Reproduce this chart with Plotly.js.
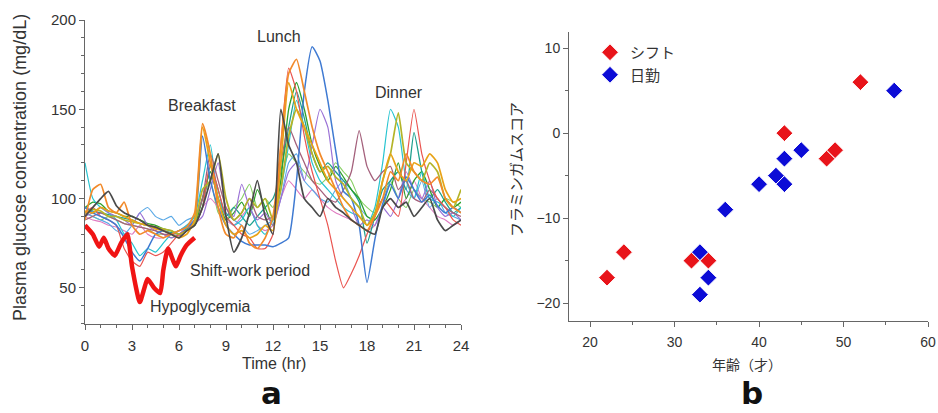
<!DOCTYPE html>
<html>
<head>
<meta charset="utf-8">
<script src="https://cdn.plot.ly/plotly-3.0.1.min.js"></script>
<style>html,body{margin:0;padding:0;background:#fff;}#chart{width:938px;height:413px;}</style>
</head>
<body>
<div id="chart"></div>
<script>
// ---- Panel a: plasma glucose (mg/dL) vs time (hr) ----
const hours = [0,0.5,1,1.5,2,2.5,3,3.5,4,4.5,5,5.5,6,6.5,7,7.5,8,8.5,9,9.5,10,10.5,11,11.5,12,12.5,13,13.5,14,14.5,15,15.5,16,16.5,17,17.5,18,18.5,19,19.5,20,20.5,21,21.5,22,22.5,23,23.5,24];

const gBlue = [95,92,90,88,85,78,70,65,72,80, 82,80,82,84,88,135,110,95,85,80, 76,74,74,74,73,75,78,110,160,185, 177,155,127,104,100,85,53,77,97,108, 100,112,105,98,102,96,92,95,92];
const gOrange = [88,105,108,95,92,98,85,80,82,80, 78,80,82,84,92,142,125,95,80,78, 85,75,72,78,90,130,170,178,160,140, 125,115,105,95,88,85,82,90,100,115, 110,125,115,110,108,112,100,95,92];
const gRed = [92,95,90,88,85,72,65,62,70,68, 70,75,80,82,85,95,120,105,90,85, 80,78,72,72,80,130,173,160,135,115, 100,85,65,50,58,68,80,90,100,95, 90,120,150,125,110,100,95,88,85];
const gGreen = [95,98,97,93,92,90,90,88,86,85, 83,82,80,82,85,100,115,100,88,92, 98,90,105,95,85,110,150,165,150,130, 118,110,118,112,105,100,90,88,95,105, 120,100,110,115,105,95,100,95,98];
const gPurple = [90,92,95,92,90,88,85,92,85,82, 80,78,80,84,86,90,105,120,95,90, 108,95,88,92,85,100,115,120,110,130, 150,140,110,100,95,85,88,85,95,90, 100,115,105,100,110,95,90,92,88];
const gMauve = [88,90,92,90,88,86,85,84,83,82, 80,80,79,82,88,100,125,110,95,88, 92,100,90,88,90,120,140,130,120,110, 105,100,98,105,115,138,118,110,115,118, 105,110,100,98,105,100,95,92,90];
const gCyan = [120,100,95,92,88,80,75,68,72,70, 75,80,82,85,90,110,130,100,90,85, 88,95,85,80,88,105,130,155,140,120, 110,105,100,95,92,90,85,95,120,150, 140,110,100,115,100,98,95,90,95];
const gOlive = [92,94,93,90,90,88,87,86,85,84, 83,82,80,82,86,105,110,125,100,88, 92,100,95,100,88,105,135,150,140,125, 115,118,112,108,100,95,85,92,110,125, 148,120,115,110,120,115,100,95,105];
const gDark = [90,95,100,104,96,92,90,88,85,84, 82,80,78,82,85,95,110,125,90,70, 78,92,110,90,80,150,130,120,100,95, 90,100,95,92,88,85,82,80,95,100, 95,98,90,95,100,88,82,85,88];
const gGold = [93,92,95,93,92,90,88,86,85,83, 82,80,78,80,88,140,120,100,85,80, 82,78,80,85,82,120,165,150,140,130, 120,110,105,100,95,90,85,90,110,125, 115,110,120,118,125,120,105,98,100];
const gTeal = [95,93,92,91,90,89,88,86,85,84, 82,81,80,83,85,95,118,105,90,95, 90,85,90,95,100,115,140,160,145,125, 115,120,115,110,105,98,75,90,105,110, 115,105,137,115,100,105,98,92,95];
const gLightGreen = [92,90,88,90,88,86,85,84,83,80, 80,78,80,83,87,100,110,92,88,95, 100,108,95,100,95,110,125,120,115,110, 108,112,120,115,110,100,95,92,100,110, 100,95,105,100,98,95,100,98,95];
const gLightBlue = [92,90,88,86,82,80,85,92,95,90, 88,90,85,88,90,100,115,100,92,88, 85,80,82,85,88,100,120,125,110,105, 100,98,105,110,100,95,90,88,95,110, 115,105,100,110,95,100,92,90,88];
const gPink = [90,88,87,85,84,82,80,85,80,78, 78,80,82,85,88,95,100,95,88,85, 90,95,85,82,85,100,110,105,100,105, 100,95,92,90,88,85,82,85,95,100, 95,100,110,100,95,90,88,85,88];

// Thick red hypoglycemia trace during the shift-work period
const shiftHours = [0,0.5,0.9,1.2,1.5,1.9,2.3,2.7,3.0,3.5,4.0,4.4,4.8,5.0,5.3,5.8,6.1,6.5,7.0];
const shiftGlucose = [85,80,73,78,72,68,75,80,62,42,55,50,47,60,72,62,68,74,78];

// ---- Panel b: Framingham score vs age ----
const shiftAge = [22,24,32,34,43,48,49,52];
const shiftScore = [-17,-14,-15,-15,0,-3,-2,6];
const dayAge = [33,33,34,36,40,42,43,43,45,56];
const dayScore = [-14,-19,-17,-9,-6,-5,-3,-6,-2,5];

const xTicksA = [0,3,6,9,12,15,18,21,24];
const yTicksA = [50,100,150,200];
const xTicksB = [20,30,40,50,60];
const yTicksB = [-20,-10,0,10];

const thin = [
  [gLightGreen,'#86cf62',1.1],[gPink,'#e07ac0',1.1],[gLightBlue,'#5aa9e6',1.1],
  [gTeal,'#1fa08e',1.3],[gGreen,'#2ea02c',1.3],[gCyan,'#27c4d0',1.2],
  [gPurple,'#9b72d6',1.2],[gMauve,'#a4617c',1.3],[gRed,'#ea5550',1.2],
  [gBlue,'#3f7ad2',1.5],[gOlive,'#b4b428',1.7],[gGold,'#e8a317',1.7],
  [gOrange,'#f28a2a',1.7],[gDark,'#4a4a4a',1.7]
];

const traces = thin.map(([vals,color,w]) => ({
  x: hours, y: vals, type:'scatter', mode:'lines', xaxis:'x', yaxis:'y',
  line:{color:color, width:w, shape:'spline', smoothing:0.5}, showlegend:false, hoverinfo:'skip'
}));
traces.push({x: shiftHours, y: shiftGlucose, type:'scatter', mode:'lines', xaxis:'x', yaxis:'y',
  line:{color:'#f01414', width:4.5, shape:'spline', smoothing:0.5}, showlegend:false});

traces.push({x: shiftAge, y: shiftScore, type:'scatter', mode:'markers', name:'シフト', xaxis:'x2', yaxis:'y2',
  marker:{symbol:'diamond', size:13, color:'#e8141a', line:{color:'#ffffff', width:1}}});
traces.push({x: dayAge, y: dayScore, type:'scatter', mode:'markers', name:'日勤', xaxis:'x2', yaxis:'y2',
  marker:{symbol:'diamond', size:13, color:'#0c0cd6', line:{color:'#ffffff', width:1}}});

const LAT = 'Liberation Sans, Arial, sans-serif';
const CJK = 'Noto Sans CJK JP, sans-serif';
const BIG = 'DejaVu Sans, sans-serif';
const axisCommon = {showline:true, linecolor:'#666', linewidth:1, ticks:'outside', ticklen:5, tickcolor:'#666',
  showgrid:false, zeroline:false, tickfont:{family:LAT, size:15, color:'#333'}, fixedrange:true};

const W = 938, H = 413;
const layout = {
  width: W, height: H, margin:{l:0,r:0,t:0,b:0}, paper_bgcolor:'#fff', plot_bgcolor:'#fff',
  showlegend:true,
  legend:{x:590/W, y:1-36/H, xanchor:'left', yanchor:'top', bgcolor:'rgba(0,0,0,0)',
    font:{family:CJK, size:15, color:'#333'}, tracegroupgap:0},
  xaxis: Object.assign({}, axisCommon, {domain:[85/W, 461/W], range:[0,24], anchor:'y',
    tickvals:xTicksA, minor:{dtick:1, ticks:'outside', ticklen:3, tickcolor:'#666'}, ticklabelstandoff:3}),
  yaxis: Object.assign({}, axisCommon, {domain:[(H-323.5)/H, (H-20)/H], range:[30,200], anchor:'x',
    tickvals:yTicksA, minor:{dtick:10, ticks:'outside', ticklen:3, tickcolor:'#666'}}),
  xaxis2: Object.assign({}, axisCommon, {domain:[569/W, 928/W], range:[17.5,60], anchor:'y2',
    tickvals:xTicksB, minor:{dtick:5, ticks:'outside', ticklen:3, tickcolor:'#666'}, ticklabelstandoff:3,
    tickfont:{family:LAT, size:14, color:'#333'}}),
  yaxis2: Object.assign({}, axisCommon, {domain:[(H-321)/H, (H-32)/H], range:[-22.1,11.9], anchor:'x2',
    tickvals:yTicksB, minor:{dtick:5, ticks:'outside', ticklen:3, tickcolor:'#666'},
    tickfont:{family:LAT, size:14, color:'#333'}}),
  annotations: [
    {text:'Plasma glucose concentration (mg/dL)', x:20/W, y:1-168/H, textangle:-90},
    {text:'Time (hr)', x:274/W, y:1-363/H},
    {text:'Breakfast', x:202/W, y:1-105/H},
    {text:'Lunch', x:279/W, y:1-36/H},
    {text:'Dinner', x:399/W, y:1-92/H},
    {text:'Shift-work period', x:250/W, y:1-270/H},
    {text:'Hypoglycemia', x:200/W, y:1-306/H},
    {text:'<b>a</b>', x:271/W, y:0, yanchor:'bottom', font:{family:BIG, size:31, color:'#111'}},
    {text:'フラミンガムスコア', x:515/W, y:1-170/H, textangle:-90, font:{family:CJK, size:15, color:'#333'}},
    {text:'年齢（才）', x:747/W, y:1-364/H, font:{family:CJK, size:14, color:'#333'}},
    {text:'<b>b</b>', x:752/W, y:0, yanchor:'bottom', font:{family:BIG, size:31, color:'#111'}}
  ].map(a => Object.assign({xref:'paper', yref:'paper', showarrow:false, xanchor:'center', yanchor:'middle',
    font:{family:LAT, size:16, color:'#333'}}, a))
};
layout.annotations[0].font = {family:LAT, size:18, color:'#333'};
layout.annotations[1].font = {family:LAT, size:16, color:'#333'};

Plotly.newPlot('chart', traces, layout, {displayModeBar:false, staticPlot:true});
</script>
</body>
</html>
